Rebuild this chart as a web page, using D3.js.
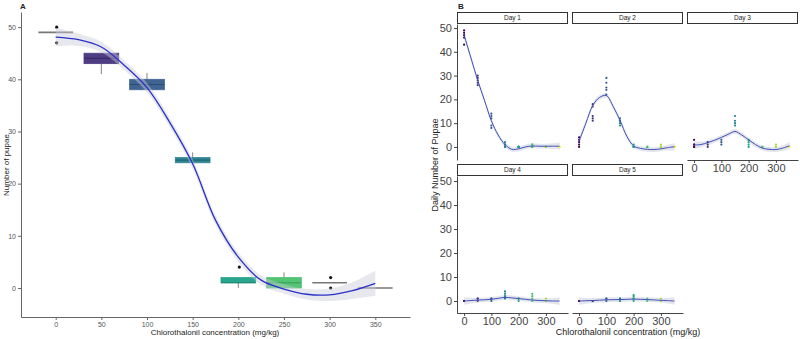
<!DOCTYPE html>
<html><head><meta charset="utf-8">
<script src="https://cdn.jsdelivr.net/npm/d3@7"></script>
<style>
body{margin:0;background:#fff;}
svg{font-family:"Liberation Sans",Arial,sans-serif;display:block;}
</style></head>
<body><svg id="c" width="800" height="339"></svg>
<script>
// ---------- data ----------
const concentrations = [0, 50, 100, 150, 200, 250, 300, 350];
const palette = ["#440154","#46337E","#365C8D","#277F8E","#1FA187","#4AC16D","#9FDA3A","#FDE725"];

// Panel A boxplots (total pupae)
const boxLower  = [49, 41, 38, 24, 0, 0, 1, 0];
const boxQ1     = [49, 43, 38, 24, 1, 0, 1, 0];
const boxMedian = [49, 44, 39, 24.5, 1, 1, 1, 0];
const boxQ3     = [49, 45, 40, 25, 2, 2, 1, 0];
const boxUpper  = [49, 45, 41.2, 26, 2, 3, 1, 0];
const boxOutliers = [[50, 47], [], [], [], [4], [], [2, 0], []];

// Panel A smooth
const smoothX   = [0, 25, 50, 75, 100, 125, 150, 175, 200, 225, 250, 275, 300, 325, 350];
const smoothA   = [48.1, 47.6, 46.2, 42.7, 38.4, 31.7, 23.8, 13, 5.9, 1.5, -0.2, -1.2, -1.3, -0.5, 0.9];
const smoothAse = [1.8, 1.2, 1.0, 0.9, 0.9, 0.9, 0.9, 0.9, 0.9, 0.9, 0.9, 1.0, 1.2, 1.6, 2.4];

// Panel B daily points (per concentration)
const day1Points = [[49,48,47,46,43],[30,29,28,27,26],[14,13,12,9,8],[2,1,1,0,0],[0,0,0,0,0],[1,1,0,0,0],[0,0,0],[0,0]];
const day2Points = [[4,3,2,1,0],[18,17,13,12,11],[29,27,25,24,22],[12,11,11,10,9],[1,0,0,0],[0,0,0],[1,0,0],[0,0]];
const day3Points = [[3,1,1,0,0],[2,1,0],[3,2,1],[13,11,10,9],[3,2,1,0],[0,0],[1,0],[0]];
const day4Points = [[0,0],[1,1,0],[1,1,0],[4,3,2,1],[1,1,0],[3,2,1,0],[1,0],[]];
const day5Points = [[0,0],[0,0],[1,1,0],[1,1,0],[2.5,2,1,1,0],[1,0],[1,0],[]];

// Panel B smooths
const day1Smooth = [47, 37.5, 28, 19.5, 11, 5, 1, -1, -0.8, 0, 0.4, 0.3, 0.3, 0.3, 0.3];
const day2Smooth = [2.5, 10, 17.4, 20.8, 21.6, 17, 11.2, 4.5, 0.4, -0.6, -1, -1.1, -0.8, -0.3, 0.1];
const day3Smooth = [0.8, 1, 1.8, 2.8, 4, 5.3, 6.5, 5, 3, 1, -0.5, -1, -1.1, -0.5, 0.5];
const day4Smooth = [0, 0.2, 0.4, 0.5, 0.7, 1.1, 1.5, 1.3, 1, 0.7, 0.4, 0.2, 0.1, 0, 0];
const day5Smooth = [0, 0.1, 0.2, 0.35, 0.5, 0.55, 0.6, 0.7, 0.8, 0.7, 0.6, 0.45, 0.3, 0.15, 0];
const smoothBse  = [1.6, 1.2, 1.0, 1.0, 1.0, 1.0, 1.0, 1.0, 1.0, 1.0, 1.0, 1.0, 1.0, 1.2, 1.6];

const dayLabels = ["Day 1", "Day 2", "Day 3", "Day 4", "Day 5"];
const xTicksA = [0, 50, 100, 150, 200, 250, 300, 350];
const yTicksA = [0, 10, 20, 30, 40, 50];
const xTicksB = [0, 100, 200, 300];
const yTicksB = [0, 10, 20, 30, 40, 50];

// ---------- drawing ----------
const svg = d3.select("#c");
const curve = d3.curveCatmullRom.alpha(0.5);

// ===== Panel A =====
const xA = d3.scaleLinear().domain([-38, 388]).range([21, 410]);
const yA = d3.scaleLinear().domain([-5.56, 52.9]).range([317, 12]);
const gA = svg.append("g");

const areaA = d3.area().x((d,i)=>xA(smoothX[i])).y0((d,i)=>yA(smoothA[i]-smoothAse[i])).y1((d,i)=>yA(smoothA[i]+smoothAse[i])).curve(curve);
const lineA = d3.line().x((d,i)=>xA(smoothX[i])).y((d,i)=>yA(smoothA[i])).curve(curve);

// boxes
const hw = 19;
concentrations.forEach((c, i) => {
  const g = gA.append("g");
  const collapsed = boxQ3[i] - boxQ1[i] < 0.01;
  g.append("line").attr("x1", xA(c)).attr("x2", xA(c)).attr("y1", yA(boxQ3[i])).attr("y2", yA(boxUpper[i]))
    .attr("stroke", "#777").attr("stroke-width", 0.9);
  g.append("line").attr("x1", xA(c)).attr("x2", xA(c)).attr("y1", yA(boxQ1[i])).attr("y2", yA(boxLower[i]))
    .attr("stroke", "#777").attr("stroke-width", 0.9);
  if (!collapsed) {
    g.append("rect").attr("x", xA(c - hw)).attr("width", xA(c + hw) - xA(c - hw))
      .attr("y", yA(boxQ3[i])).attr("height", yA(boxQ1[i]) - yA(boxQ3[i]))
      .attr("fill", palette[i]).attr("stroke", palette[i]).attr("stroke-width", 0.8).attr("opacity", 0.95);
    g.append("line").attr("x1", xA(c - hw)).attr("x2", xA(c + hw)).attr("y1", yA(boxMedian[i])).attr("y2", yA(boxMedian[i]))
      .attr("stroke", d3.color(palette[i]).darker(0.6)).attr("stroke-width", 1.2);
  } else {
    g.append("line").attr("x1", xA(c - hw)).attr("x2", xA(c + hw)).attr("y1", yA(boxMedian[i])).attr("y2", yA(boxMedian[i]))
      .attr("stroke", "#777").attr("stroke-width", 1.6);
  }
  boxOutliers[i].forEach(v => {
    g.append("circle").attr("cx", xA(c) + 1).attr("cy", yA(v)).attr("r", 1.6).attr("fill", "#111");
  });
});

gA.append("path").datum(smoothX).attr("d", areaA).attr("fill", "#c9cdd8").attr("opacity", 0.45);
gA.append("path").datum(smoothX).attr("d", lineA).attr("fill", "none").attr("stroke", "#2b2fc9").attr("stroke-width", 1.3);

// axes A
const axAx = gA.append("g").attr("transform", "translate(0,317)")
  .call(d3.axisBottom(xA).tickValues(xTicksA).tickSize(3).tickSizeOuter(0).tickPadding(2));
const axAy = gA.append("g").attr("transform", "translate(21,0)")
  .call(d3.axisLeft(yA).tickValues(yTicksA).tickSize(3).tickSizeOuter(0).tickPadding(2));
[axAx, axAy].forEach(a => {
  a.select(".domain").attr("stroke", "#666").attr("stroke-width", 1);
  a.selectAll(".tick line").attr("stroke", "#666");
  a.selectAll(".tick text").attr("fill", "#555").attr("font-size", 7);
});
gA.append("text").attr("x", 215).attr("y", 335).attr("text-anchor", "middle").attr("font-size", 8).attr("fill", "#222")
  .text("Chlorothalonil concentration (mg/kg)");
gA.append("text").attr("transform", "translate(9,165) rotate(-90)").attr("text-anchor", "middle").attr("font-size", 8).attr("fill", "#222")
  .text("Number of pupae");
gA.append("text").attr("x", 20).attr("y", 9).attr("font-size", 8).attr("font-weight", "bold").attr("fill", "#222").text("A");

// ===== Panel B =====
const dayPoints = [day1Points, day2Points, day3Points, day4Points, day5Points];
const daySmooth = [day1Smooth, day2Smooth, day3Smooth, day4Smooth, day5Smooth];
const colLeft = [457, 572, 687];
const rows = [{stripTop: 12, top: 24, bottom: 160, dom: [-5.5, 51.7]}, {stripTop: 164, top: 176, bottom: 313, dom: [-5.0, 52.1]}];
const pw = 111;

dayLabels.forEach((lab, k) => {
  const r = k < 3 ? 0 : 1, c = k < 3 ? k : k - 3;
  const R = rows[r], L = colLeft[c];
  const x = d3.scaleLinear().domain([-26, 381]).range([L, L + pw]);
  const y = d3.scaleLinear().domain(R.dom).range([R.bottom, R.top]);
  const g = svg.append("g");
  // strip
  g.append("rect").attr("x", L + 0.5).attr("y", R.stripTop + 0.5).attr("width", pw - 1).attr("height", R.top - R.stripTop - 1)
    .attr("fill", "#fff").attr("stroke", "#333").attr("stroke-width", 1);
  g.append("text").attr("x", L + pw / 2).attr("y", (R.stripTop + R.top) / 2 + 2.2).attr("text-anchor", "middle")
    .attr("font-size", 6.5).attr("fill", "#222").text(lab);
  // band & line
  const sm = daySmooth[k];
  g.append("path").datum(smoothX).attr("fill", "#c9cdd8").attr("opacity", 0.5)
    .attr("d", d3.area().x((d,i)=>x(smoothX[i])).y0((d,i)=>y(sm[i]-smoothBse[i])).y1((d,i)=>y(sm[i]+smoothBse[i])).curve(curve));
  // points
  dayPoints[k].forEach((vals, i) => {
    vals.forEach(v => {
      g.append("circle").attr("cx", x(concentrations[i])).attr("cy", y(v)).attr("r", 1.1).attr("fill", palette[i]);
    });
  });
  g.append("path").datum(smoothX).attr("fill", "none").attr("stroke", "#3f4fb8").attr("stroke-width", 1)
    .attr("d", d3.line().x((d,i)=>x(smoothX[i])).y((d,i)=>y(sm[i])).curve(curve));
  // axes
  if (c === 0) {
    const ay = g.append("g").attr("transform", `translate(${L},0)`)
      .call(d3.axisLeft(y).tickValues(yTicksB).tickSize(3).tickSizeOuter(0).tickPadding(2));
    ay.select(".domain").attr("stroke", "#444");
    ay.selectAll(".tick line").attr("stroke", "#444");
    ay.selectAll(".tick text").attr("fill", "#444").attr("font-size", 11);
  }
  if (k >= 2) {
    const ax = g.append("g").attr("transform", `translate(0,${R.bottom})`)
      .call(d3.axisBottom(x).tickValues(xTicksB).tickSize(3).tickSizeOuter(0).tickPadding(1));
    ax.select(".domain").attr("stroke", "#444");
    ax.selectAll(".tick line").attr("stroke", "#444");
    ax.selectAll(".tick text").attr("fill", "#444").attr("font-size", 11);
  }
});
svg.append("text").attr("x", 628).attr("y", 335).attr("text-anchor", "middle").attr("font-size", 9).attr("fill", "#222")
  .text("Chlorothalonil concentration (mg/kg)");
svg.append("text").attr("transform", "translate(438,165) rotate(-90)").attr("text-anchor", "middle").attr("font-size", 9).attr("fill", "#222")
  .text("Daily Number of Pupae");
svg.append("text").attr("x", 458).attr("y", 9).attr("font-size", 8).attr("font-weight", "bold").attr("fill", "#222").text("B");
</script>
</body></html>
